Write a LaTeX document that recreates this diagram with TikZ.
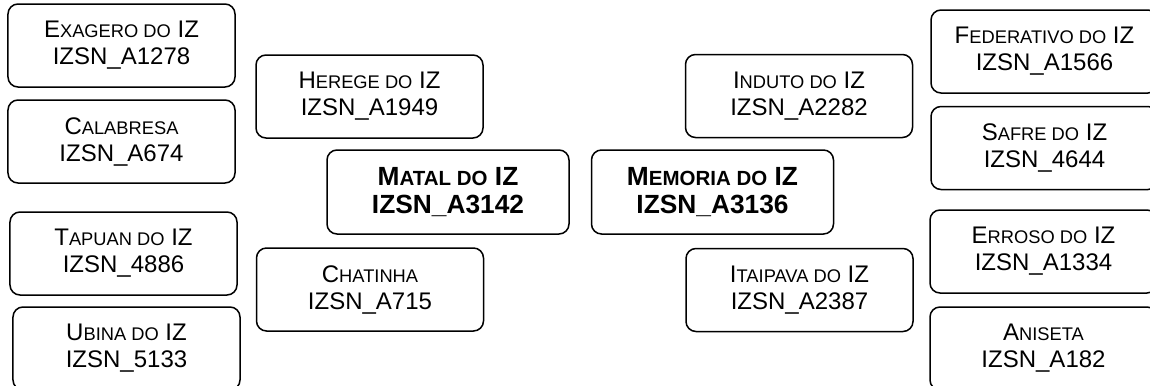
\documentclass[tikz,border=0pt]{standalone}
\usepackage{fontspec}
\setmainfont{Liberation Sans}
\newcommand{\smc}[1]{{\fontsize{18.3bp}{27bp}\selectfont #1}}
\newcommand{\smcb}[1]{{\fontsize{20.5bp}{29bp}\selectfont #1}}
\tikzset{
  box/.style={draw=black, line width=1.5bp, rounded corners=10bp,
    minimum width=227bp, minimum height=83bp, align=center, inner sep=0pt,
    font=\fontsize{24bp}{27bp}\selectfont},
  mainbox/.style={box, minimum width=242bp, minimum height=84bp,
    font=\fontsize{26.3bp}{28.5bp}\selectfont\bfseries}
}
\begin{document}
\begin{tikzpicture}[x=1bp,y=-1bp]
\useasboundingbox (0,0) rectangle (1150,385);
% left column
\node[box] (exagero)   at (121.5,45.5)  {E\smc{XAGERO DO} IZ\\IZSN\_A1278};
\node[box] (calabresa) at (121.5,141.5) {C\smc{ALABRESA}\\IZSN\_A674};
\node[box] (tapuan)    at (123.5,253.5) {T\smc{APUAN DO} IZ\\IZSN\_4886};
\node[box] (ubina)     at (126.5,348.5) {U\smc{BINA DO} IZ\\IZSN\_5133};
% inner left
\node[box] (herege)    at (369.5,96.5)  {H\smc{EREGE DO} IZ\\IZSN\_A1949};
\node[box] (chatinha)  at (370,289.5)   {C\smc{HATINHA}\\IZSN\_A715};
% centre
\node[mainbox] (matal)   at (448,192)   {M\smcb{ATAL DO} IZ\\IZSN\_A3142};
\node[mainbox] (memoria) at (712.5,192) {M\smcb{EMORIA DO} IZ\\IZSN\_A3136};
% inner right
\node[box] (induto)    at (799,96)      {I\smc{NDUTO DO} IZ\\IZSN\_A2282};
\node[box] (itaipava)  at (799.5,290)   {I\smc{TAIPAVA DO} IZ\\IZSN\_A2387};
% right column
\node[box] (federativo) at (1044.5,51.5) {F\smc{EDERATIVO DO} IZ\\IZSN\_A1566};
\node[box] (safre)      at (1044.5,148)  {S\smc{AFRE DO} IZ\\IZSN\_4644};
\node[box] (erroso)     at (1043.5,251.5) {E\smc{RROSO DO} IZ\\IZSN\_A1334};
\node[box] (aniseta)    at (1043.5,348.5) {A\smc{NISETA}\\IZSN\_A182};
\end{tikzpicture}
\end{document}
